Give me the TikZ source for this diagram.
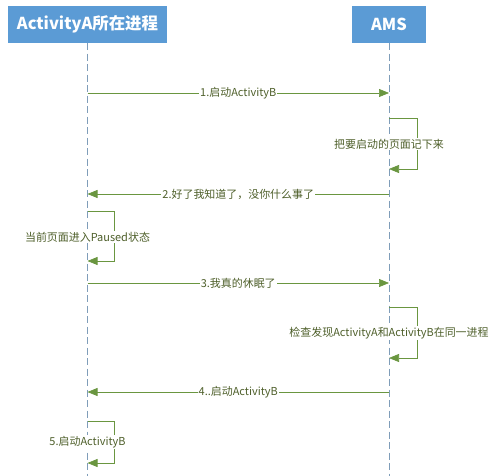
\documentclass[tikz,border=0pt]{standalone}
\usepackage{fontspec}
\setmainfont{Noto Sans CJK SC}
\usetikzlibrary{arrows.meta}
\definecolor{boxblue}{HTML}{5B9BD5}
\definecolor{lifegray}{HTML}{7F9DB9}
\definecolor{msggreen}{HTML}{6A9640}
\definecolor{txtgreen}{HTML}{4E5F2A}

\begin{document}
\begin{tikzpicture}[x=1bp,y=-1bp,
  actor/.style={fill=boxblue,text=white,font=\fontsize{16.5}{18}\selectfont\bfseries,minimum height=37bp,inner sep=0pt},
  lifeline/.style={lifegray,dash pattern=on 7bp off 3.5bp,line width=0.6bp},
  msg/.style={msggreen,line width=0.7bp,-{Triangle[length=10bp,width=8bp]}},
  lbl/.style={fill=white,text=txtgreen,font=\fontsize{11}{13}\selectfont,inner sep=1bp}]
\useasboundingbox (0,0) rectangle (492,476);
\node[actor,minimum width=159bp] (procA) at (87.5,24.5) {ActivityA所在进程};
\node[actor,minimum width=74bp] (ams) at (389,24.5) {AMS};
\coordinate (procAend) at (87.5,476);
\coordinate (amsend) at (389,476);
\draw[lifeline] (procA.south) -- (procAend);
\draw[lifeline] (ams.south) -- (amsend);
% message rows on both lifelines
\foreach \y/\m in {93/m1,194/m2,283/m3,392/m4} {
  \coordinate (A\m) at (87.5,\y);
  \coordinate (S\m) at (389,\y);
}
\draw[msg] (Am1) -- node[lbl] {1.启动ActivityB} (Sm1);
\draw[msg] (Sm2) -- node[lbl] {2.好了我知道了，没你什么事了} (Am2);
\draw[msg] (Am3) -- node[lbl] {3.我真的休眠了} (Sm3);
\draw[msg] (Sm4) -- node[lbl] {4..启动ActivityB} (Am4);
% self calls
\coordinate (S1top) at (389,118); \coordinate (S1bot) at (389,169);
\coordinate (A1top) at (87.5,211); \coordinate (A1bot) at (87.5,261);
\coordinate (S2top) at (389,307); \coordinate (S2bot) at (389,358);
\coordinate (A2top) at (87.5,421); \coordinate (A2bot) at (87.5,463);
\draw[msg] (S1top) -- ++(28,0) |- (S1bot);
\draw[msg] (A1top) -- ++(26.5,0) |- (A1bot);
\draw[msg] (S2top) -- ++(28,0) |- (S2bot);
\draw[msg] (A2top) -- ++(26.5,0) |- (A2bot);
\node[lbl] (S1note) at (389,144) {把要启动的页面记下来};
\node[lbl] (A1note) at (87.5,237) {当前页面进入Paused状态};
\node[lbl] (S2note) at (389,333) {检查发现ActivityA和ActivityB在同一进程};
\node[lbl] (A2note) at (87.5,442) {5.启动ActivityB};
\end{tikzpicture}
\end{document}
